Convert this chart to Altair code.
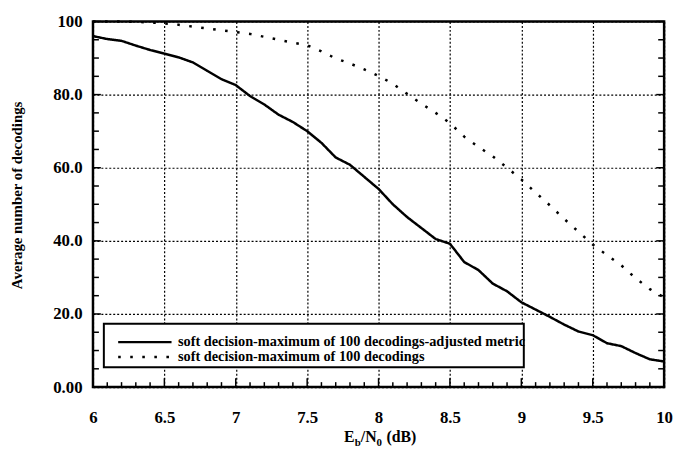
import altair as alt
import pandas as pd

# ---- data ----
x_vals = [6.0, 6.1, 6.2, 6.3, 6.4, 6.5, 6.6, 6.7, 6.8, 6.9,
          7.0, 7.1, 7.2, 7.3, 7.4, 7.5, 7.6, 7.7, 7.8, 7.9,
          8.0, 8.1, 8.2, 8.3, 8.4, 8.5, 8.6, 8.7, 8.8, 8.9,
          9.0, 9.1, 9.2, 9.3, 9.4, 9.5, 9.6, 9.7, 9.8, 9.9, 10.0]
adjusted = [96.0, 95.2, 94.7, 93.4, 92.2, 91.2, 90.2, 88.8, 86.5, 84.2,
            82.6, 79.6, 77.3, 74.5, 72.5, 70.0, 66.8, 62.8, 60.8, 57.5,
            54.2, 50.0, 46.5, 43.5, 40.5, 39.2, 34.2, 32.0, 28.3, 26.2,
            23.2, 21.2, 19.2, 17.1, 15.2, 14.2, 12.0, 11.2, 9.3, 7.6, 7.0]
plain = [100.0, 100.0, 100.0, 99.9, 99.7, 99.5, 99.1, 98.6, 98.1, 97.6,
         97.1, 96.6, 95.8, 95.0, 94.2, 93.5, 91.8, 89.9, 88.5, 86.9,
         85.1, 83.0, 80.2, 77.5, 75.0, 72.2, 68.5, 65.7, 63.1, 60.0,
         56.8, 53.2, 49.7, 46.0, 42.5, 39.0, 36.1, 33.3, 29.8, 26.8, 24.5]
series_names = ["soft decision-maximum of 100 decodings-adjusted metric",
                "soft decision-maximum of 100 decodings"]

x_major = [6.0, 6.5, 7.0, 7.5, 8.0, 8.5, 9.0, 9.5, 10.0]
x_minor = [6.1, 6.2, 6.3, 6.4, 6.6, 6.7, 6.8, 6.9, 7.1, 7.2, 7.3, 7.4,
           7.6, 7.7, 7.8, 7.9, 8.1, 8.2, 8.3, 8.4, 8.6, 8.7, 8.8, 8.9,
           9.1, 9.2, 9.3, 9.4, 9.6, 9.7, 9.8, 9.9]
y_major = [0, 20, 40, 60, 80, 100]
y_minor = [5, 10, 15, 25, 30, 35, 45, 50, 55, 65, 70, 75, 85, 90, 95]

y_title = "Average number of decodings"

# ---- layout ----
W, H = 578, 370
FONT = "Liberation Serif, Times New Roman, serif"

rows = []
for xv, a, p in zip(x_vals, adjusted, plain):
    rows.append({"x": xv, "y": a, "series": series_names[0]})
    rows.append({"x": xv, "y": p, "series": series_names[1]})
df = pd.DataFrame(rows)

xscale = alt.Scale(domain=[6, 10], nice=False, zero=False)
yscale = alt.Scale(domain=[0, 100], nice=False)

y_label_expr = "datum.value == 100 ? '100' : (datum.value == 0 ? '0.00' : format(datum.value, '.1f'))"

x_axis = alt.Axis(values=x_major, format=".1~f", title=None, grid=True,
                  gridDash=[2, 2], gridColor="black", gridWidth=1.2, gridOpacity=1,
                  domain=False, ticks=False, labelPadding=23,
                  labelFont=FONT, labelFontSize=17, labelFontWeight="bold",
                  labelColor="black", labelFlush=False, labelOverlap=False)
y_axis = alt.Axis(values=y_major, labelExpr=y_label_expr, title=None, grid=True,
                  gridDash=[2, 2], gridColor="black", gridWidth=1.2, gridOpacity=1,
                  domain=False, ticks=False, labelPadding=11,
                  labelFont=FONT, labelFontSize=17, labelFontWeight="bold",
                  labelColor="black", labelFlush=False, labelOverlap=False)

lines = alt.Chart(df).mark_line(color="black", strokeWidth=2.5).encode(
    x=alt.X("x:Q", scale=xscale, axis=x_axis),
    y=alt.Y("y:Q", scale=yscale, axis=y_axis),
    strokeDash=alt.StrokeDash(
        "series:N",
        scale=alt.Scale(domain=series_names, range=[[1, 0], [2.6, 9.6]]),
        legend=alt.Legend(title=None, orient="none", legendX=24, legendY=319,
                          symbolType="stroke", symbolSize=2916, symbolStrokeWidth=2.5,
                          symbolStrokeColor="black", clipHeight=11, padding=0,
                          labelOffset=5, labelFont=FONT, labelFontSize=14.5,
                          labelFontWeight="bold", labelColor="black", labelLimit=420,
                          rowPadding=0)),
    order="x:Q",
)

one = pd.DataFrame({"a": [0]})

legend_box = alt.Chart(one).mark_rect(fill="white", stroke="black", strokeWidth=2).encode(
    x=alt.value(11), x2=alt.value(436), y=alt.value(306), y2=alt.value(350))

xminor_df = pd.DataFrame({"x": x_minor})
xmajor_df = pd.DataFrame({"x": x_major})
yminor_df = pd.DataFrame({"y": y_minor})
ymajor_df = pd.DataFrame({"y": y_major})

tick_style = dict(color="black", strokeWidth=1.5)
xmin_ticks = alt.Chart(xminor_df).mark_rule(**tick_style).encode(
    x=alt.X("x:Q", scale=xscale, axis=x_axis), y=alt.value(H), y2=alt.value(H - 5))
xmaj_ticks = alt.Chart(xmajor_df).mark_rule(**tick_style).encode(
    x=alt.X("x:Q", scale=xscale, axis=x_axis), y=alt.value(H), y2=alt.value(H - 9))
yl_min = alt.Chart(yminor_df).mark_rule(**tick_style).encode(
    y=alt.Y("y:Q", scale=yscale, axis=y_axis), x=alt.value(0), x2=alt.value(6))
yr_min = alt.Chart(yminor_df).mark_rule(**tick_style).encode(
    y=alt.Y("y:Q", scale=yscale, axis=y_axis), x=alt.value(W), x2=alt.value(W - 6))
yl_maj = alt.Chart(ymajor_df).mark_rule(**tick_style).encode(
    y=alt.Y("y:Q", scale=yscale, axis=y_axis), x=alt.value(0), x2=alt.value(8))
yr_maj = alt.Chart(ymajor_df).mark_rule(**tick_style).encode(
    y=alt.Y("y:Q", scale=yscale, axis=y_axis), x=alt.value(W), x2=alt.value(W - 8))

# x axis title with subscripts (E_b / N_0 (dB))
tb = 426  # baseline, plot coords
big, small = 16, 11
def txt(s, x, y, size):
    return alt.Chart(one).mark_text(text=s, font=FONT, fontSize=size, fontWeight="bold",
                                    align="left", baseline="alphabetic", color="black").encode(
        x=alt.value(x), y=alt.value(y))

xt = (txt("E", 254, tb, big) + txt("b", 265, tb + 4, small) + txt("/N", 271, tb, big)
      + txt("0", 287, tb + 4, small) + txt("(dB)", 297, tb, big))

ytitle = alt.Chart(one).mark_text(text=y_title, font=FONT, fontSize=15, fontWeight="bold",
                                  angle=270, align="center", baseline="middle",
                                  color="black").encode(x=alt.value(-77), y=alt.value(176))

chart = alt.layer(lines, legend_box, xmin_ticks, xmaj_ticks, yl_min, yr_min, yl_maj, yr_maj,
                  xt, ytitle).properties(
    width=W, height=H,
    autosize=alt.AutoSizeParams(type="none"),
    padding={"left": 86, "top": 11, "right": 10, "bottom": 59},
    background="white",
).configure_view(stroke="black", strokeWidth=2.5)

chart.save("out.html", embed_options={"renderer": "svg", "actions": False})
